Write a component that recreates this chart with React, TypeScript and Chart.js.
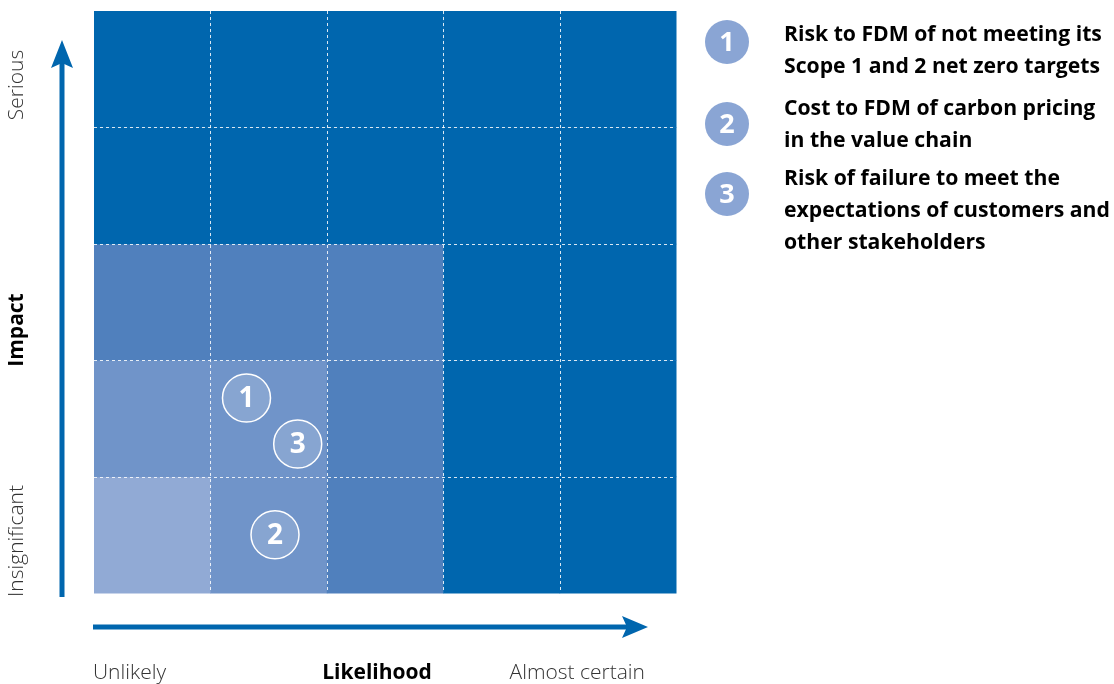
import React, { useEffect, useRef } from "react";
import { Chart, registerables } from "chart.js";

Chart.register(...registerables);

// Likelihood columns (left -> right), impact rows (bottom -> top)
const likelihoodLabels = ["Unlikely", "Likelihood", "Almost certain"];
const impactLabels = ["Insignificant", "Impact", "Serious"];

// Shade level per cell, rows from bottom (insignificant) to top (serious)
const cellLevels: number[][] = [
  [0, 1, 2, 3, 3],
  [1, 1, 2, 3, 3],
  [2, 2, 2, 3, 3],
  [3, 3, 3, 3, 3],
  [3, 3, 3, 3, 3],
];
const levelColors = ["#91aad5", "#7094c9", "#5080bd", "#0066ae"];

// Risks plotted on the matrix
const riskIds = ["1", "2", "3"];
const riskLikelihood = [1.31, 1.555, 1.75];
const riskImpact = [1.675, 0.5, 1.28];
const riskTexts = [
  ["Risk to FDM of not meeting its", "Scope 1 and 2 net zero targets"],
  ["Cost to FDM of carbon pricing", "in the value chain"],
  ["Risk of failure to meet the", "expectations of customers and", "other stakeholders"],
];

const BLUE = "#0066ae";

const matrixPlugin = {
  id: "matrix",
  beforeDatasetsDraw(chart: any) {
    const { ctx, scales } = chart;
    const x = scales.x;
    const y = scales.y;
    ctx.save();
    for (let r = 0; r < cellLevels.length; r++) {
      for (let c = 0; c < cellLevels[r].length; c++) {
        const x0 = x.getPixelForValue(c);
        const x1 = x.getPixelForValue(c + 1);
        const y0 = y.getPixelForValue(r + 1);
        const y1 = y.getPixelForValue(r);
        ctx.fillStyle = levelColors[cellLevels[r][c]];
        ctx.fillRect(x0, y0, x1 - x0 + 0.5, y1 - y0 + 0.5);
      }
    }
    ctx.strokeStyle = "rgba(255,255,255,0.85)";
    ctx.lineWidth = 1;
    ctx.setLineDash([3, 3]);
    const n = cellLevels.length;
    for (let i = 1; i < n; i++) {
      const px = Math.round(x.getPixelForValue(i)) + 0.5;
      ctx.beginPath();
      ctx.moveTo(px, y.getPixelForValue(n));
      ctx.lineTo(px, y.getPixelForValue(0));
      ctx.stroke();
      const py = Math.round(y.getPixelForValue(i)) + 0.5;
      ctx.beginPath();
      ctx.moveTo(x.getPixelForValue(0), py);
      ctx.lineTo(x.getPixelForValue(n), py);
      ctx.stroke();
    }
    ctx.restore();
  },
  afterDatasetsDraw(chart: any) {
    const { ctx } = chart;
    const meta = chart.getDatasetMeta(0);
    ctx.save();
    ctx.fillStyle = "#ffffff";
    ctx.font = "bold 28px 'Open Sans'";
    ctx.textAlign = "center";
    ctx.textBaseline = "middle";
    meta.data.forEach((pt: any, i: number) => {
      ctx.fillText(riskIds[i], pt.x, pt.y + 1);
    });
    ctx.restore();
  },
  afterDraw(chart: any) {
    const { ctx, chartArea } = chart;
    const { left, top, right, bottom } = chartArea;
    ctx.save();
    // vertical arrow
    const ax = left - 32;
    ctx.strokeStyle = BLUE;
    ctx.fillStyle = BLUE;
    ctx.lineWidth = 5;
    ctx.beginPath();
    ctx.moveTo(ax, bottom + 4);
    ctx.lineTo(ax, top + 50);
    ctx.stroke();
    ctx.beginPath();
    ctx.moveTo(ax, top + 29);
    ctx.lineTo(ax - 11, top + 57);
    ctx.lineTo(ax, top + 52);
    ctx.lineTo(ax + 11, top + 57);
    ctx.closePath();
    ctx.fill();
    // horizontal arrow
    const ay = bottom + 34;
    ctx.beginPath();
    ctx.moveTo(left - 1, ay);
    ctx.lineTo(right - 40, ay);
    ctx.stroke();
    ctx.beginPath();
    ctx.moveTo(right - 28, ay);
    ctx.lineTo(right - 54, ay - 11);
    ctx.lineTo(right - 49, ay);
    ctx.lineTo(right - 54, ay + 11);
    ctx.closePath();
    ctx.fill();

    // axis labels (impact, rotated)
    ctx.textBaseline = "middle";
    ctx.textAlign = "center";
    const impactY = [541, 330, 85];
    impactLabels.forEach((t, i) => {
      ctx.save();
      ctx.translate(17, impactY[i]);
      ctx.rotate(-Math.PI / 2);
      ctx.font = i === 1 ? "bold 21px 'Open Sans'" : "300 21px 'Open Sans'";
      ctx.fillStyle = i === 1 ? "#000000" : "#333333";
      ctx.fillText(t, 0, 0);
      ctx.restore();
    });
    // likelihood labels
    const lx = [left - 1, 377, 645];
    const align = ["left", "center", "right"];
    likelihoodLabels.forEach((t, i) => {
      ctx.font = i === 1 ? "bold 21px 'Open Sans'" : "300 21px 'Open Sans'";
      ctx.fillStyle = i === 1 ? "#000000" : "#333333";
      ctx.textAlign = align[i] as CanvasTextAlign;
      ctx.fillText(t, lx[i], 673);
    });

    // legend
    const circleY = [42, 124, 194];
    const textY = [35, 109, 179];
    riskIds.forEach((id, i) => {
      ctx.beginPath();
      ctx.fillStyle = "#8aa5d4";
      ctx.arc(727, circleY[i], 22, 0, Math.PI * 2);
      ctx.fill();
      ctx.fillStyle = "#ffffff";
      ctx.font = "bold 27px 'Open Sans'";
      ctx.textAlign = "center";
      ctx.fillText(id, 727, circleY[i] + 1);
      ctx.fillStyle = "#000000";
      ctx.font = "bold 21.2px 'Open Sans'";
      ctx.textAlign = "left";
      riskTexts[i].forEach((line, j) => {
        ctx.fillText(line, 784, textY[i] + j * 32);
      });
    });
    ctx.restore();
  },
};

export default function App() {
  const ref = useRef<HTMLCanvasElement | null>(null);
  useEffect(() => {
    if (!ref.current) return;
    const chart = new Chart(ref.current, {
      type: "scatter",
      data: {
        datasets: [
          {
            data: riskIds.map((_, i) => ({ x: riskLikelihood[i], y: riskImpact[i] })),
            backgroundColor: "rgba(255,255,255,0.16)",
            borderColor: "#ffffff",
            borderWidth: 1.5,
            pointRadius: 24,
            pointHoverRadius: 24,
          },
        ],
      },
      options: {
        animation: false,
        responsive: false,
        events: [],
        layout: { autoPadding: false, padding: { left: 94, top: 11, right: 438, bottom: 91 } },
        plugins: { legend: { display: false }, tooltip: { enabled: false } },
        scales: {
          x: { type: "linear", min: 0, max: 5, display: false },
          y: { type: "linear", min: 0, max: 5, display: false },
        },
      },
      plugins: [matrixPlugin],
    });
    return () => chart.destroy();
  }, []);
  return (
    <div style={{ position: "absolute", left: 0, top: 0, width: 1114, height: 684, background: "#fff" }}>
      <canvas ref={ref} width={1114} height={684} style={{ width: 1114, height: 684 }} />
    </div>
  );
}
